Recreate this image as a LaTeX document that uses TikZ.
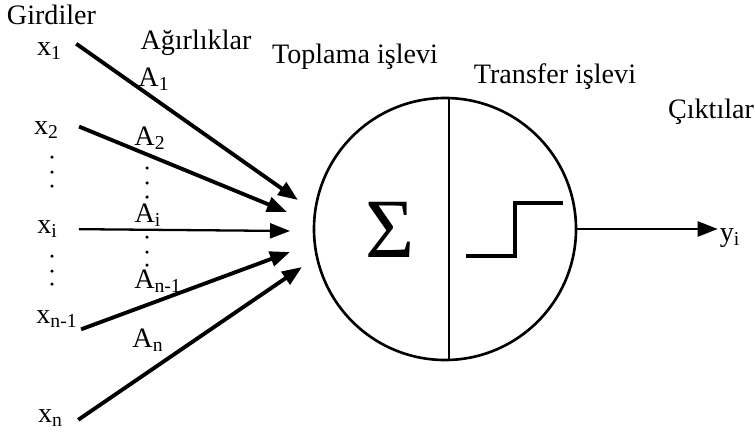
\documentclass[tikz,border=0pt]{standalone}
\usepackage{fontspec}
\setmainfont{Liberation Serif}
\usepackage{tikz}
\usetikzlibrary{arrows.meta}

\begin{document}
\begin{tikzpicture}[
    lbl/.style={font=\fontsize{16}{19}\selectfont, inner sep=1pt},
    inarrow/.style={line width=2.2pt, -{Triangle[length=0.4cm, width=0.3cm]}}
]
\useasboundingbox (0,0) rectangle (15.1,8.68);

% headings
\node[lbl] (girdiler) at (1.03, 8.38) {Girdiler};
\node[lbl] (agirlik) at (3.92, 7.82) {Ağırlıklar};
\node[lbl] (toplama) at (7.1, 7.55) {Toplama işlevi};
\node[lbl] (transfer) at (11.1, 7.14) {Transfer işlevi};
\node[lbl] (cikti) at (14.22, 6.44) {Çıktılar};

% neuron
\node[draw, circle, line width=1.5pt, minimum size=5.24cm, inner sep=0pt] (neuron) at (8.9, 4.1) {};
\draw[line width=1.1pt] ([xshift=0.08cm]neuron.north) -- ([xshift=0.08cm]neuron.south);
\node[font=\fontsize{48}{48}\selectfont, inner sep=0pt] (sum) at (7.8, 4.08) {Σ};
\draw[line width=1.8pt] (9.32,3.56) -- (10.3,3.56) -- (10.3,4.62) -- (11.26,4.62);

% inputs
\node[lbl] (x1) at (0.99, 7.66) {x\textsubscript{1}};
\node[lbl] (x2) at (0.93, 6.08) {x\textsubscript{2}};
\node[lbl] (xi) at (0.95, 4.10) {x\textsubscript{i}};
\node[lbl] (xn1) at (1.14, 2.30) {x\textsubscript{n-1}};
\node[lbl] (xn) at (1.01, 0.32) {x\textsubscript{n}};

% weights
\node[lbl] (a1) at (3.08, 7.1) {A\textsubscript{1}};
\node[lbl] (a2) at (3.0, 5.92) {A\textsubscript{2}};
\node[lbl] (ai) at (2.96, 4.38) {A\textsubscript{i}};
\node[lbl] (an1) at (3.16, 3.06) {A\textsubscript{n-1}};
\node[lbl] (an) at (2.96, 1.88) {A\textsubscript{n}};

\foreach \y in {5.54, 5.24, 4.96, 3.56, 3.26, 3.0}
    \fill (1.04,\y) circle (0.035);
\foreach \y in {5.32, 5.02, 4.74, 3.94, 3.64, 3.38}
    \fill (2.94,\y) circle (0.035);

% arrow tips in front of the neuron
\coordinate (t1) at (5.96, 4.68);
\coordinate (t2) at (5.74, 4.44);
\coordinate (ti) at (5.8, 4.06);
\coordinate (tn1) at (5.8, 3.64);
\coordinate (tn) at (6.04, 3.34);

\draw[inarrow, shorten <=0.3cm] ([yshift=0.1cm]x1.north east) -- (t1);
\draw[inarrow, shorten <=0.39cm] (x2.north east) -- (t2);
\draw[inarrow, line width=1.3pt, shorten <=0.38cm] (xi.east) -- (ti);
\draw[inarrow, shorten <=0.03cm] (xn1.south east) -- (tn1);
\draw[inarrow, shorten <=0.32cm] (xn.south east) -- (tn);

% output
\node[lbl] (yout) at (14.6, 3.92) {y\textsubscript{i}};
\draw[line width=1.4pt, -{Triangle[length=0.4cm, width=0.3cm]}] (neuron.east) -- (neuron.east -| yout.west);
\end{tikzpicture}
\end{document}
